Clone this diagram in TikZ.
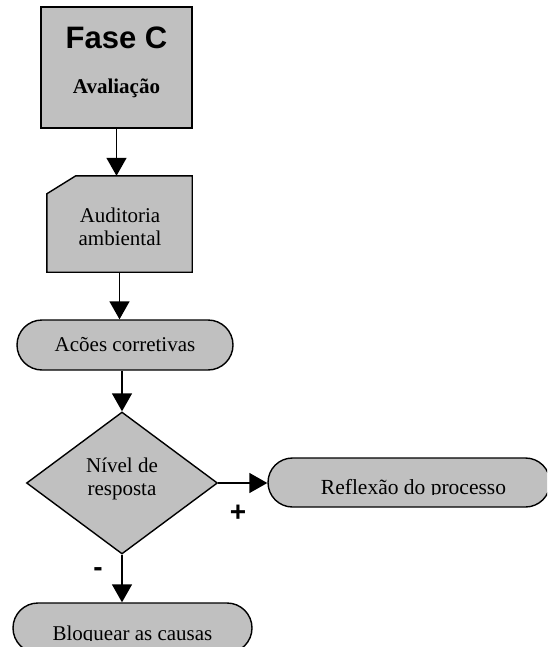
\documentclass[tikz,border=0pt]{standalone}
\usepackage{fontspec}
\setmainfont{Liberation Serif}
\newfontfamily\headfont{Liberation Sans}
\usetikzlibrary{arrows.meta,shapes.geometric}
\definecolor{boxgray}{RGB}{192,192,192}
\begin{document}
\begin{tikzpicture}[x=1pt,y=-1pt,
  outl/.style={draw=black, line width=1.4pt, fill=boxgray},
  arr/.style={-{Triangle[width=20pt,length=18pt]}, line width=1.5pt},
  txt/.style={font=\fontsize{21}{23}\selectfont, align=center, inner sep=0pt},
  stadium/.style={outl, rectangle, rounded corners=24.5pt, minimum height=49pt, inner sep=0pt}]
\useasboundingbox (0,0) rectangle (547,647);
\clip (0,0) rectangle (547,647);

% Phase box
\node[outl, rectangle, minimum width=151pt, minimum height=121pt, inner sep=0pt] (fase) at (116.5,67.5) {};
\node[inner sep=0pt, font=\headfont\bfseries\fontsize{31}{34}\selectfont] (fasetitle) at (116.5,37.5) {Fase C};
\node[inner sep=0pt, font=\bfseries\fontsize{21}{23}\selectfont] (fasesub) at (116.5,88) {Avaliação};

% Document card
\node[rectangle, minimum width=145pt, minimum height=96pt, inner sep=0pt] (aud) at (119.5,224) {};
\draw[outl] ([yshift=-18pt]aud.north west) -- ([xshift=29pt]aud.north west) -- (aud.north east)
  -- (aud.south east) -- (aud.south west) -- cycle;
\node[txt] (audtxt) at (120,226.5) {Auditoria\\ambiental};

% Acoes corretivas
\node[stadium, minimum width=216pt, minimum height=50pt, rounded corners=25pt, txt] (acoes) at (125,345) {Acões corretivas};

% Decision
\node[outl, diamond, aspect=1.345, minimum width=191pt, minimum height=142pt, inner sep=0pt] (nivel) at (122,483) {};
\node[txt] (niveltxt) at (122,478.5) {Nível de\\resposta};

% Reflexao
\node[stadium, minimum width=282pt] (refl) at (409,482.5) {};
\begin{scope}
  \clip (268,450) rectangle (550,494);
  \node[txt, anchor=base, font=\fontsize{21.5}{23}\selectfont] (refltxt) at (413.5,494) {Reflexão do processo};
\end{scope}

% Bloquear
\node[stadium, minimum width=239pt, minimum height=50pt, rounded corners=25pt] (bloq) at (132.5,628) {};
\begin{scope}
  \clip (13,600) rectangle (252,640);
  \node[txt, anchor=base] (bloqtxt) at (132.5,640) {Bloquear as causas};
\end{scope}

% Connectors
\draw[arr] (fase.south) -- (fase.south |- aud.north);
\draw[arr] (aud.south) -- (aud.south |- acoes.north);
\draw[arr] (nivel.north |- acoes.south) -- (nivel.north);
\draw[arr] (nivel.east) -- (nivel.east -| refl.west);
\draw[arr] (nivel.south) -- (nivel.south |- bloq.north);

% Branch labels
\node[inner sep=0pt, font=\headfont\bfseries\fontsize{28}{30}\selectfont] (plus) at (238,513) {+};
\node[inner sep=0pt, font=\headfont\bfseries\fontsize{28}{30}\selectfont] (minus) at (98,572) {-};
\end{tikzpicture}
\end{document}
